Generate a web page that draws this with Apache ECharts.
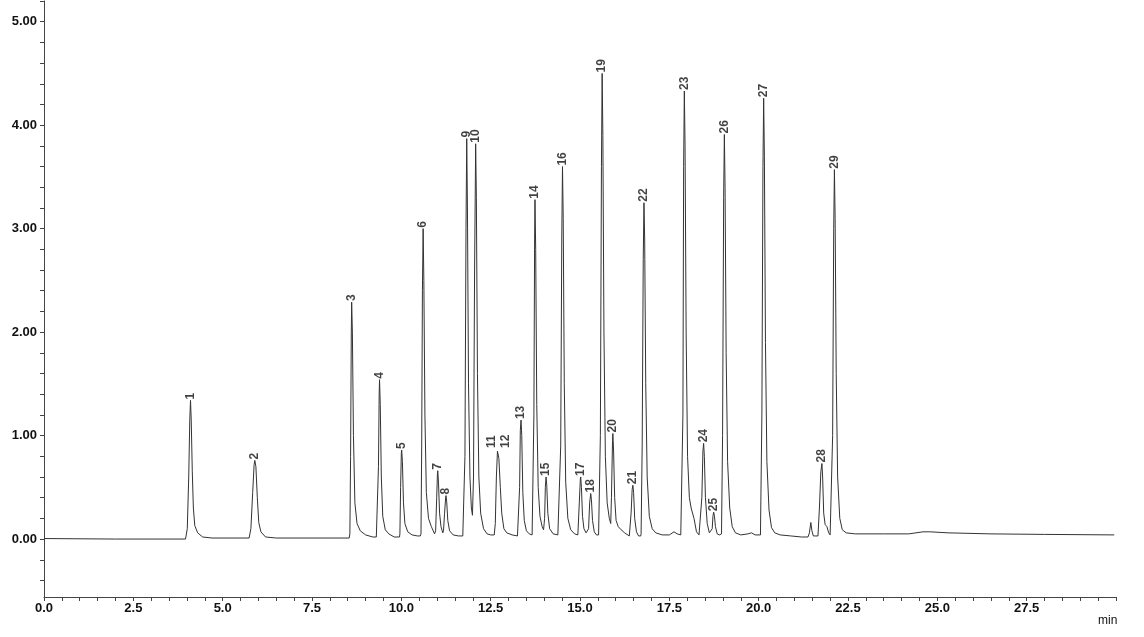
<!DOCTYPE html>
<html><head><meta charset="utf-8">
<script src="https://cdn.jsdelivr.net/npm/echarts@6/dist/echarts.min.js"></script>
<style>html,body{margin:0;padding:0;background:#fff}#c{width:1144px;height:637px}</style>
</head><body><div id="c"></div>
<script>
// Tick labels
const xTickLabels = [0, 2.5, 5, 7.5, 10, 12.5, 15, 17.5, 20, 22.5, 25, 27.5];
const yTickLabels = [0, 1, 2, 3, 4, 5];

// Chromatogram trace [time (min), signal]
const trace = [
  [0, 0.005], [2, 0.0], [3.96, 0.0],
  [4.01, 0.1], [4.05, 0.6], [4.08, 1.15], [4.10, 1.34], [4.12, 1.15], [4.15, 0.65], [4.18, 0.3], [4.22, 0.13], [4.3, 0.06], [4.44, 0.02], [4.7, 0.01],
  [5.74, 0.01], [5.79, 0.1], [5.84, 0.45], [5.88, 0.72], [5.90, 0.76], [5.93, 0.7], [5.97, 0.4], [6.01, 0.16], [6.07, 0.07], [6.2, 0.02], [6.5, 0.01],
  [8.0, 0.01], [8.54, 0.01],
  [8.56, 0.05], [8.58, 0.8], [8.60, 2.0], [8.61, 2.29], [8.63, 2.0], [8.66, 1.0], [8.70, 0.35], [8.76, 0.15], [8.85, 0.08], [9.0, 0.04], [9.2, 0.02], [9.3, 0.02],
  [9.33, 0.03], [9.36, 0.7], [9.38, 1.4], [9.39, 1.54], [9.41, 1.3], [9.44, 0.6], [9.48, 0.22], [9.55, 0.09], [9.65, 0.05], [9.8, 0.02], [9.95, 0.02],
  [9.96, 0.05], [9.98, 0.5], [10.0, 0.83], [10.01, 0.86], [10.03, 0.75], [10.06, 0.35], [10.1, 0.15], [10.18, 0.07], [10.3, 0.04], [10.45, 0.03], [10.53, 0.03],
  [10.55, 0.05], [10.57, 0.9], [10.59, 2.4], [10.61, 3.0], [10.63, 2.5], [10.66, 1.2], [10.70, 0.45], [10.76, 0.2], [10.84, 0.12], [10.93, 0.05],
  [10.96, 0.08], [10.99, 0.4], [11.01, 0.63], [11.02, 0.66], [11.04, 0.55], [11.07, 0.25], [11.11, 0.12], [11.16, 0.06],
  [11.18, 0.08], [11.21, 0.25], [11.24, 0.4], [11.25, 0.42], [11.27, 0.36], [11.30, 0.18], [11.35, 0.08], [11.45, 0.04], [11.6, 0.03], [11.72, 0.03],
  [11.75, 0.04], [11.78, 0.8], [11.81, 3.0], [11.83, 3.87], [11.85, 3.2], [11.88, 1.5], [11.92, 0.6], [11.96, 0.3], [11.99, 0.23],
  [12.02, 0.6], [12.05, 2.6], [12.08, 3.82], [12.10, 3.3], [12.13, 1.6], [12.17, 0.6], [12.22, 0.25], [12.3, 0.1], [12.4, 0.05], [12.5, 0.04],
  [12.6, 0.04], [12.63, 0.15], [12.66, 0.6], [12.69, 0.85], [12.70, 0.86], [12.73, 0.78], [12.77, 0.5], [12.81, 0.25], [12.87, 0.1], [12.95, 0.06], [13.1, 0.04], [13.25, 0.03],
  [13.28, 0.04], [13.31, 0.5], [13.33, 1.05], [13.35, 1.15], [13.37, 1.0], [13.40, 0.45], [13.44, 0.18], [13.5, 0.08], [13.58, 0.05], [13.66, 0.04],
  [13.68, 0.05], [13.71, 1.2], [13.73, 2.9], [13.74, 3.28], [13.76, 2.8], [13.79, 1.3], [13.83, 0.5], [13.88, 0.22], [13.94, 0.12], [13.98, 0.09],
  [14.01, 0.2], [14.03, 0.5], [14.05, 0.6], [14.07, 0.52], [14.10, 0.25], [14.15, 0.1], [14.25, 0.05], [14.38, 0.04],
  [14.43, 0.05], [14.46, 0.9], [14.49, 2.9], [14.51, 3.6], [14.53, 3.1], [14.56, 1.5], [14.60, 0.55], [14.66, 0.2], [14.74, 0.09], [14.85, 0.05], [14.94, 0.04],
  [14.95, 0.05], [14.98, 0.35], [15.01, 0.58], [15.02, 0.6], [15.04, 0.5], [15.07, 0.22], [15.11, 0.1], [15.17, 0.06], [15.22, 0.06],
  [15.24, 0.1], [15.27, 0.35], [15.30, 0.44], [15.32, 0.38], [15.35, 0.18], [15.40, 0.07], [15.46, 0.04], [15.52, 0.04],
  [15.54, 0.05], [15.57, 1.0], [15.60, 3.6], [15.62, 4.5], [15.64, 3.9], [15.67, 2.0], [15.71, 0.8], [15.76, 0.35], [15.82, 0.2], [15.86, 0.15],
  [15.88, 0.4], [15.91, 0.95], [15.92, 1.02], [15.94, 0.85], [15.97, 0.4], [16.01, 0.18], [16.07, 0.12], [16.15, 0.09], [16.25, 0.06], [16.38, 0.03],
  [16.40, 0.03], [16.43, 0.25], [16.46, 0.48], [16.48, 0.52], [16.50, 0.45], [16.53, 0.2], [16.58, 0.07], [16.64, 0.03], [16.70, 0.03],
  [16.71, 0.05], [16.74, 0.9], [16.77, 2.7], [16.79, 3.25], [16.81, 2.9], [16.84, 1.5], [16.88, 0.6], [16.94, 0.22], [17.02, 0.1], [17.12, 0.06], [17.3, 0.04], [17.5, 0.04], [17.63, 0.07], [17.72, 0.05], [17.82, 0.04],
  [17.85, 0.05], [17.88, 1.2], [17.90, 3.6], [17.92, 4.33], [17.94, 3.8], [17.97, 2.0], [18.01, 0.8], [18.06, 0.4], [18.11, 0.3], [18.15, 0.31], [18.19, 0.2], [18.26, 0.07], [18.33, 0.04],
  [18.38, 0.04], [18.41, 0.4], [18.44, 0.85], [18.46, 0.925], [18.48, 0.8], [18.51, 0.4], [18.56, 0.15], [18.62, 0.06], [18.67, 0.05],
  [18.70, 0.1], [18.72, 0.22], [18.74, 0.26], [18.76, 0.23], [18.79, 0.12], [18.84, 0.05], [18.90, 0.04],
  [18.96, 0.05], [18.99, 1.0], [19.02, 3.3], [19.04, 3.91], [19.06, 3.4], [19.09, 1.8], [19.13, 0.75], [19.19, 0.3], [19.26, 0.12], [19.35, 0.06], [19.5, 0.04], [19.7, 0.05], [19.8, 0.06], [19.9, 0.04], [20.05, 0.04],
  [20.06, 0.05], [20.09, 1.2], [20.12, 3.6], [20.14, 4.26], [20.16, 3.7], [20.19, 1.9], [20.23, 0.75], [20.29, 0.28], [20.36, 0.11], [20.45, 0.06], [20.6, 0.04], [20.9, 0.03], [21.2, 0.02], [21.38, 0.02],
  [21.42, 0.06], [21.46, 0.16], [21.49, 0.08], [21.53, 0.03], [21.6, 0.03],
  [21.66, 0.03], [21.70, 0.3], [21.74, 0.65], [21.77, 0.73], [21.79, 0.6], [21.82, 0.25], [21.86, 0.14], [21.91, 0.12], [21.96, 0.06], [22.0, 0.04],
  [22.04, 0.05], [22.07, 1.0], [22.10, 3.0], [22.12, 3.57], [22.14, 3.1], [22.17, 1.6], [22.21, 0.6], [22.27, 0.2], [22.34, 0.09], [22.45, 0.06], [22.7, 0.05],
  [23.5, 0.05], [24.2, 0.05], [24.6, 0.07], [24.8, 0.07], [25.3, 0.06], [26.5, 0.05], [28, 0.045], [29.95, 0.04]
];

// Peak numbers with retention time and apex height (label anchors)
const peakIds = ['1','2','3','4','5','6','7','8','9','10','11','12','13','14','15','16','17','18','19','20','21','22','23','24','25','26','27','28','29'];
const peakTimes = [4.10, 5.90, 8.61, 9.39, 10.01, 10.61, 11.02, 11.25, 11.83, 12.08, 12.62, 12.80, 13.35, 13.74, 14.05, 14.51, 15.02, 15.30, 15.62, 15.92, 16.48, 16.79, 17.92, 18.46, 18.74, 19.04, 20.14, 21.77, 22.12];
const peakHeights = [1.34, 0.76, 2.29, 1.54, 0.86, 3.00, 0.66, 0.42, 3.87, 3.82, 0.87, 0.87, 1.15, 3.28, 0.60, 3.60, 0.60, 0.44, 4.50, 1.02, 0.52, 3.25, 4.33, 0.925, 0.26, 3.91, 4.26, 0.73, 3.57];

const labelShift = { '11': -3, '12': 4 };
const yTicks = [];
for (let k = -2; k <= 26; k++) yTicks.push(+(k * 0.2).toFixed(1));

const chart = echarts.init(document.getElementById('c'), null, { renderer: 'canvas' });
const font = 'Liberation Sans, Arial, sans-serif';
chart.setOption({
  animation: false,
  backgroundColor: '#fff',
  grid: { left: 44, right: 28, top: 1, bottom: 40, containLabel: false },
  xAxis: {
    type: 'value', min: 0, max: 30, interval: 0.5,
    name: 'min', nameLocation: 'end', nameGap: -18,
    nameTextStyle: { fontFamily: font, fontSize: 12, color: '#111', verticalAlign: 'top', padding: [18, 0, 0, 0] },
    axisLine: { show: true, onZero: false, lineStyle: { color: '#444', width: 1 } },
    axisTick: { show: true, length: 4, lineStyle: { color: '#444' } },
    splitLine: { show: false },
    axisLabel: {
      fontFamily: font, fontSize: 13, fontWeight: 'bold', color: '#111', margin: 5,
      formatter: v => xTickLabels.some(t => Math.abs(t - v) < 1e-6) ? v.toFixed(1) : ''
    }
  },
  yAxis: {
    type: 'value', min: -0.56, max: 5.2,
    axisLine: { show: true, onZero: false, lineStyle: { color: '#444', width: 1 } },
    axisTick: { show: true, length: 4, customValues: yTicks, lineStyle: { color: '#444' } },
    splitLine: { show: false },
    axisLabel: {
      customValues: yTickLabels,
      fontFamily: font, fontSize: 13, fontWeight: 'bold', color: '#111', margin: 7,
      formatter: v => v.toFixed(2)
    }
  },
  series: [
    {
      type: 'line', data: trace, showSymbol: false, smooth: false, sampling: null,
      lineStyle: { color: '#333', width: 1 }, z: 2, silent: true
    },
    {
      type: 'scatter', symbolSize: 0, z: 3, silent: true,
      data: peakIds.map((id, i) => ({
        value: [peakTimes[i], peakHeights[i]], name: id,
        label: labelShift[id] ? { offset: [0, labelShift[id]] } : undefined
      })),
      label: {
        show: true, formatter: p => p.name, position: 'top', distance: 1,
        rotate: 90, align: 'left', verticalAlign: 'middle',
        fontFamily: font, fontSize: 12, fontWeight: 'bold', color: '#111'
      }
    }
  ]
});
</script>
</body></html>
